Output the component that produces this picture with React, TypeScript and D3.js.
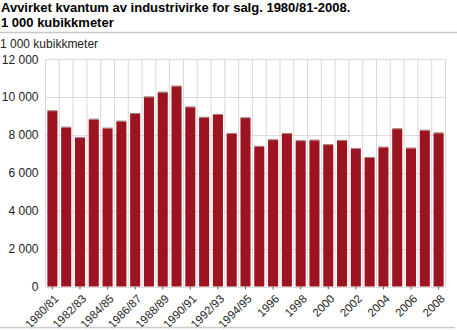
import React from "react";
import * as d3 from "d3";

const categories = [
  "1980/81","1981/82","1982/83","1983/84","1984/85","1985/86","1986/87","1987/88",
  "1988/89","1989/90","1990/91","1991/92","1992/93","1993/94","1994/95","1995",
  "1996","1997","1998","1999","2000","2001","2002","2003","2004","2005","2006","2007","2008",
];
const values = [
  9250, 8380, 7830, 8800, 8330, 8700, 9100, 9980, 10230, 10550, 9450, 8900, 9050, 8050, 8880,
  7370, 7720, 8050, 7670, 7700, 7460, 7680, 7250, 6780, 7330, 8300, 7280, 8220, 8080,
];
const yTicks = [0, 2000, 4000, 6000, 8000, 10000, 12000];
const titleLines = ["Avvirket kvantum av industrivirke for salg. 1980/81-2008.", "1 000 kubikkmeter"];
const unitLabel = "1 000 kubikkmeter";

const W = 457, H = 330;
const left = 45.5, right = 445.5, top = 59, bottom = 286.5;
const font = "'Liberation Sans', Arial, sans-serif";

export default function App() {
  const x = d3.scaleBand<string>().domain(categories).range([left, right]).paddingInner(0.27).paddingOuter(0.135);
  const step = (right - left) / categories.length;
  const y = d3.scaleLinear().domain([0, 12000]).range([bottom, top]);
  const fmt = (v: number) => d3.format(",")(v).replace(/,/g, " ");
  const grid = d3.range(categories.length + 1).map((i) => left + i * step);
  return (
    <svg width={W} height={H} style={{ position: "absolute", left: 0, top: 0 }} fontFamily={font}>
      <rect width={W} height={H} fill="#fff" />
      {titleLines.map((t, i) => (
        <text key={i} x={1} y={12 + i * 15} fontSize={13} fontWeight="bold" fill="#000">{t}</text>
      ))}
      <line x1={0} x2={W} y1={32.5} y2={32.5} stroke="#c8c8c8" strokeWidth={1.5} />
      <text x={0} y={48} fontSize={12} fill="#222">{unitLabel}</text>
      {yTicks.map((t) => (
        <g key={t}>
          <line x1={left} x2={right} y1={Math.round(y(t)) + 0.5} y2={Math.round(y(t)) + 0.5} stroke="#dcdcdc" strokeWidth={1} />
          <text x={38.5} y={y(t) + 4.5} fontSize={12} textAnchor="end" fill="#222">{fmt(t)}</text>
        </g>
      ))}
      {grid.map((gx, i) => (
        <line key={i} x1={gx} x2={gx} y1={top} y2={bottom} stroke="#d8d8d8" strokeWidth={1} />
      ))}
      {values.map((v, i) => (
        <g key={i}>
          <rect x={x(categories[i])!} y={y(v) - 1} width={x.bandwidth()} height={1} fill="#a08080" />
          <rect x={x(categories[i])!} y={y(v)} width={x.bandwidth()} height={bottom - y(v)} fill="#9c1420" />
        </g>
      ))}
      {categories.map((c, i) => {
        if (i % 2 !== 0) return null;
        const cx = x(c)! + x.bandwidth() / 2;
        return (
          <g key={c}>
            <line x1={cx} x2={cx} y1={bottom} y2={bottom + 3} stroke="#666" />
            <text transform={`translate(${cx + 7},${bottom + 13}) rotate(-45)`} fontSize={11.5} textAnchor="end" fill="#222">{c}</text>
          </g>
        );
      })}
      <line x1={0} x2={455} y1={327.5} y2={327.5} stroke="#ccc" strokeWidth={1.5} />
    </svg>
  );
}
